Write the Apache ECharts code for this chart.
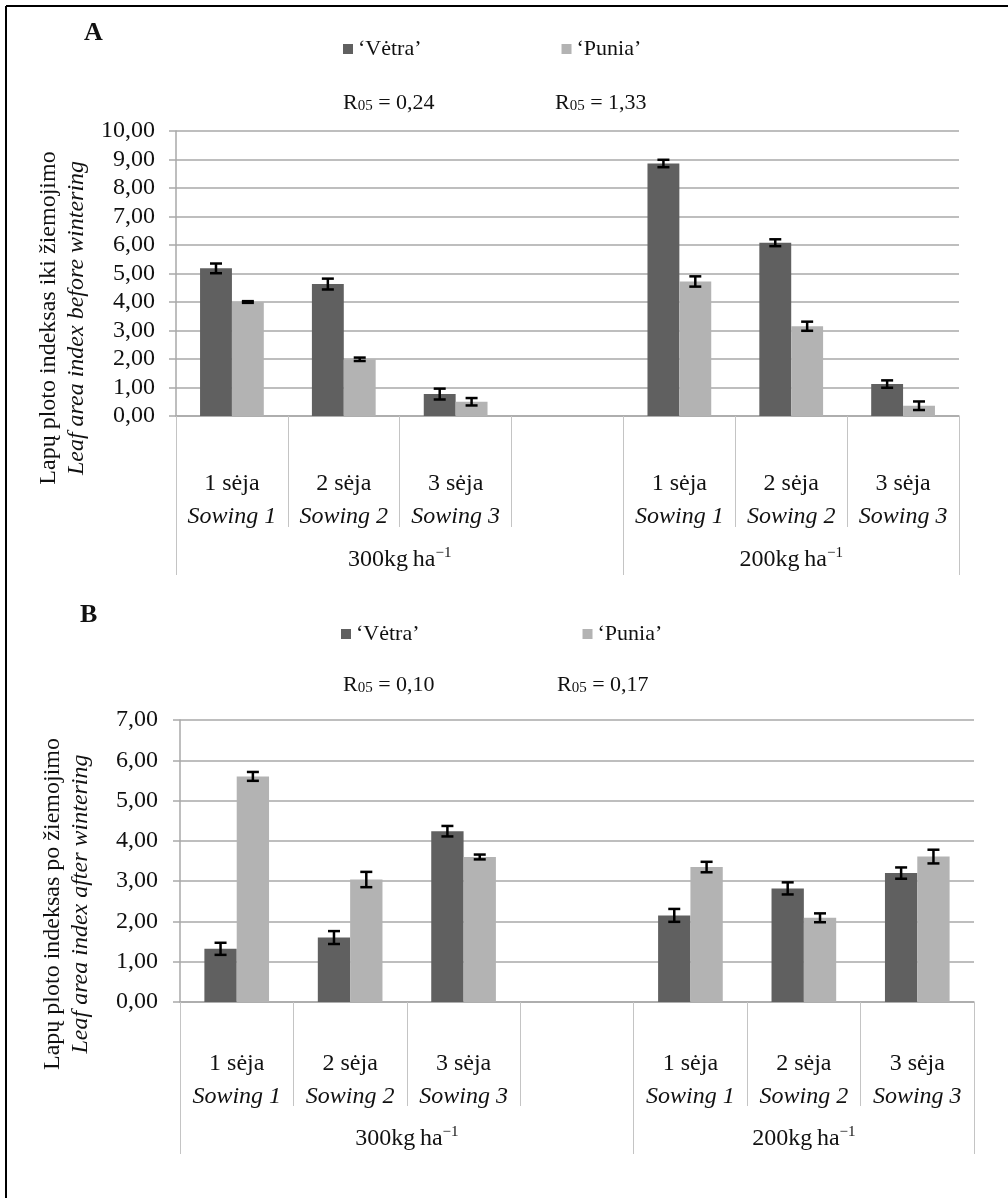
<!DOCTYPE html>
<html>
<head>
<meta charset="utf-8">
<script src="https://cdn.jsdelivr.net/npm/echarts@6/dist/echarts.min.js"></script>
<style>
html,body{margin:0;padding:0;background:#fff;}
#c{width:1008px;height:1198px;}
</style>
</head>
<body>
<div id="c"></div>
<script>
// ---------- DATA ----------
const sowingLt = ['1 sėja', '2 sėja', '3 sėja', '', '1 sėja', '2 sėja', '3 sėja'];
const sowingEn = ['Sowing 1', 'Sowing 2', 'Sowing 3', '', 'Sowing 1', 'Sowing 2', 'Sowing 3'];
const groupNames = ['300kg\u2009ha', '200kg\u2009ha'];
const groupSpan = [4, 3];
const seriesNames = ['‘Vėtra’', '‘Punia’'];

// Panel A: before wintering
const aVetra    = [5.18, 4.63, 0.77, null, 8.86, 6.08, 1.12];
const aVetraErr = [0.17, 0.19, 0.19, null, 0.13, 0.12, 0.13];
const aPunia    = [4.00, 1.99, 0.50, null, 4.72, 3.15, 0.36];
const aPuniaErr = [0.03, 0.06, 0.13, null, 0.18, 0.16, 0.15];
const aR05 = ['0,24', '1,33'];
const aTicksMax = 10;

// Panel B: after wintering
const bVetra    = [1.32, 1.60, 4.24, null, 2.15, 2.82, 3.20];
const bVetraErr = [0.15, 0.16, 0.13, null, 0.16, 0.15, 0.14];
const bPunia    = [5.60, 3.04, 3.60, null, 3.35, 2.09, 3.61];
const bPuniaErr = [0.11, 0.19, 0.06, null, 0.13, 0.11, 0.17];
const bR05 = ['0,10', '0,17'];
const bTicksMax = 7;

// ---------- STYLE ----------
const FF = '"Liberation Serif", "Times New Roman", serif';
const TXT = '#111';
const GRID_C = '#a9a9a9';
const SEP_C = '#c4c4c4';
const COL = ['#606060', '#b3b3b3'];
const BAR_FRAC = 0.57;

const slotIds = sowingLt.map((_, i) => 'c' + i);
const groupStarts = [];
const groupCenters = [];
(function () { let s = 0; groupSpan.forEach(n => { groupStarts.push(s); groupCenters.push(s + n / 2); s += n; }); })();

function errRender(sign) {
  return function (params, api) {
    const i = api.value(0), v = api.value(1), e = api.value(2);
    const band = api.size([1, 0])[0];
    const x = api.coord([i, v])[0] + sign * band * BAR_FRAC / 4;
    const yHi = api.coord([i, v + e])[1];
    const yLo = api.coord([i, v - e])[1];
    const hw = 6;
    const st = { stroke: '#000', lineWidth: 2.5 };
    return {
      type: 'group', children: [
        { type: 'line', shape: { x1: x, y1: yHi, x2: x, y2: yLo }, style: st },
        { type: 'line', shape: { x1: x - hw, y1: yHi, x2: x + hw, y2: yHi }, style: st },
        { type: 'line', shape: { x1: x - hw, y1: yLo, x2: x + hw, y2: yLo }, style: st }
      ]
    };
  };
}

function errData(vals, errs) {
  const out = [];
  vals.forEach((v, i) => { if (v != null) out.push([i, v, errs[i]]); });
  return out;
}

function fmtNum(v) { return v.toFixed(2).replace('.', ','); }

function makeAxes(gi, sepLen, grpLen, catMargin, grpMargin, yMax, yMargin) {
  const xAxes = [
    {
      type: 'category', gridIndex: gi, position: 'bottom', data: slotIds,
      axisLine: { show: true, lineStyle: { color: GRID_C, width: 1.5 } },
      axisTick: { show: true, length: sepLen, interval: 0, lineStyle: { color: SEP_C, width: 1 } },
      axisLabel: {
        interval: 0, margin: catMargin, color: TXT, fontFamily: FF, fontSize: 24, lineHeight: 33,
        formatter: (val, idx) => sowingLt[idx] ? sowingLt[idx] + '\n{i|' + sowingEn[idx] + '}' : '',
        rich: { i: { fontFamily: FF, fontSize: 24, fontStyle: 'italic', lineHeight: 33, color: TXT } }
      },
      splitLine: { show: false }
    },
    {
      type: 'category', gridIndex: gi, position: 'bottom', data: slotIds,
      axisLine: { show: false },
      axisTick: { show: true, length: grpLen, interval: (idx) => groupStarts.indexOf(idx) >= 0, lineStyle: { color: SEP_C, width: 1 } },
      axisLabel: { show: false },
      splitLine: { show: false }
    },
    {
      type: 'value', gridIndex: gi, position: 'bottom', min: 0, max: slotIds.length, interval: 0.5,
      axisLine: { show: false }, axisTick: { show: false }, splitLine: { show: false },
      axisLabel: {
        margin: grpMargin, color: TXT, fontFamily: FF, fontSize: 24, lineHeight: 28,
        formatter: (v) => {
          const k = groupCenters.findIndex(c => Math.abs(c - v) < 1e-6);
          return k >= 0 ? groupNames[k] + '{s|\u22121}' : '';
        },
        rich: { s: { fontFamily: FF, fontSize: 15, lineHeight: 18, verticalAlign: 'top', color: TXT } }
      }
    }
  ];
  const yAxis = {
    type: 'value', gridIndex: gi, min: 0, max: yMax, interval: 1,
    axisLine: { show: true, lineStyle: { color: GRID_C, width: 1.5 } },
    axisTick: { show: true, length: 7, lineStyle: { color: GRID_C, width: 1.5 } },
    splitLine: { show: true, lineStyle: { color: GRID_C, width: 1.5 } },
    axisLabel: { formatter: fmtNum, color: TXT, fontFamily: FF, fontSize: 24, margin: yMargin }
  };
  return { xAxes, yAxis };
}

const axA = makeAxes(0, 111, 159, 51, 130, aTicksMax, 21);
const axB = makeAxes(1, 104, 152, 45, 123, bTicksMax, 22);

function panelSeries(xBase, yi, vals, errs) {
  const out = [];
  vals.forEach((arr, k) => {
    out.push({
      name: seriesNames[k], type: 'bar', xAxisIndex: xBase, yAxisIndex: yi,
      data: arr, barGap: '0%', barCategoryGap: ((1 - BAR_FRAC) * 100) + '%',
      itemStyle: { color: COL[k] }, z: 2
    });
  });
  vals.forEach((arr, k) => {
    out.push({
      name: 'err' + k, type: 'custom', xAxisIndex: xBase, yAxisIndex: yi,
      renderItem: errRender(k === 0 ? -1 : 1), encode: { x: 0, y: 1 },
      data: errData(arr, errs[k]), z: 5
    });
  });
  return out;
}

const richR = { s: { fontFamily: FF, fontSize: 15, lineHeight: 14, verticalAlign: 'bottom', fill: TXT } };
function txt(x, y, text, size, extra) {
  return {
    type: 'text', x: x, y: y,
    style: Object.assign({ text: text, font: size + 'px ' + FF, fill: TXT, align: 'left', verticalAlign: 'middle' }, extra || {})
  };
}

const option = {
  animation: false,
  backgroundColor: '#fff',
  grid: [
    { left: 176, top: 131, width: 783, height: 285 },
    { left: 180, top: 720, width: 794, height: 282 }
  ],
  xAxis: axA.xAxes.concat(axB.xAxes),
  yAxis: [axA.yAxis, axB.yAxis],
  legend: [
    { data: seriesNames, left: 338, top: 33, itemWidth: 10, itemHeight: 10, itemGap: 140, icon: 'rect',
      textStyle: { fontFamily: FF, fontSize: 22, color: TXT } },
    { data: seriesNames, left: 336, top: 618, itemWidth: 10, itemHeight: 10, itemGap: 163, icon: 'rect',
      textStyle: { fontFamily: FF, fontSize: 22, color: TXT } }
  ],
  series: panelSeries(0, 0, [aVetra, aPunia], [aVetraErr, aPuniaErr])
    .concat(panelSeries(3, 1, [bVetra, bPunia], [bVetraErr, bPuniaErr])),
  graphic: [
    { type: 'line', shape: { x1: 6, y1: 6, x2: 1008, y2: 6 }, style: { stroke: '#000', lineWidth: 2 } },
    { type: 'line', shape: { x1: 6, y1: 6, x2: 6, y2: 1198 }, style: { stroke: '#000', lineWidth: 2 } },
    txt(84, 33, 'A', 26, { font: 'bold 26px ' + FF }),
    txt(80, 615, 'B', 26, { font: 'bold 26px ' + FF }),
    txt(343, 103, 'R{s|05} = ' + aR05[0], 22, { rich: richR }),
    txt(555, 103, 'R{s|05} = ' + aR05[1], 22, { rich: richR }),
    txt(343, 685, 'R{s|05} = ' + bR05[0], 22, { rich: richR }),
    txt(557, 685, 'R{s|05} = ' + bR05[1], 22, { rich: richR }),
    {
      type: 'text', x: 63, y: 318, rotation: Math.PI / 2,
      style: {
        text: 'Lapų ploto indeksas iki žiemojimo\n{i|Leaf area index before wintering}',
        font: '24px ' + FF, fill: TXT, align: 'center', verticalAlign: 'middle', lineHeight: 28,
        rich: { i: { fontFamily: FF, fontSize: 24, fontStyle: 'italic', lineHeight: 28, fill: TXT } }
      }
    },
    {
      type: 'text', x: 67, y: 904, rotation: Math.PI / 2,
      style: {
        text: 'Lapų ploto indeksas po žiemojimo\n{i|Leaf area index after wintering}',
        font: '24px ' + FF, fill: TXT, align: 'center', verticalAlign: 'middle', lineHeight: 28,
        rich: { i: { fontFamily: FF, fontSize: 24, fontStyle: 'italic', lineHeight: 28, fill: TXT } }
      }
    }
  ]
};

const chart = echarts.init(document.getElementById('c'), null, { renderer: 'canvas' });
chart.setOption(option);
</script>
</body>
</html>
